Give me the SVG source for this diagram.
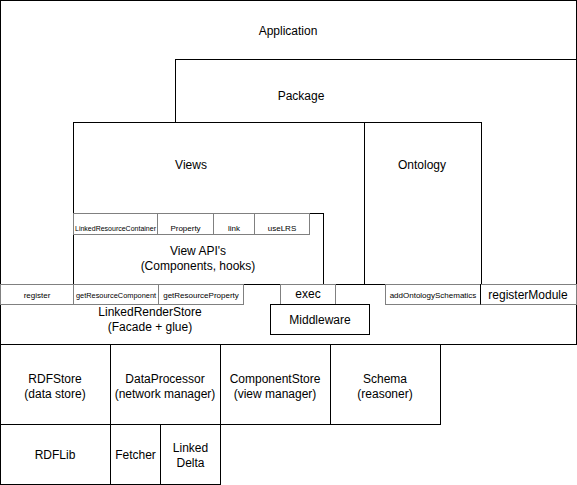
<svg xmlns="http://www.w3.org/2000/svg" width="577" height="485" viewBox="0 0 577 485">
<style>
rect{fill:#fff;stroke:#000;stroke-width:1}
rect.s{stroke:#808080}
text{font-family:"Liberation Sans",Arial,sans-serif;font-size:12px;fill:#000;text-anchor:middle}
text.t{font-size:8px}
text.n{font-size:7.4px}
text.x{font-size:7px}
</style>
<rect x="0" y="0" width="577" height="485" style="stroke:none"/>
<g id="application"><rect x="0.5" y="0.5" width="576" height="344"/><text x="288" y="35">Application</text></g>
<g id="package"><rect x="175.5" y="59.5" width="401" height="285"/><text x="301" y="100">Package</text></g>
<g id="views"><rect x="73.5" y="122.5" width="291" height="162"/><text x="191" y="169">Views</text></g>
<g id="ontology"><rect x="364.5" y="122.5" width="117" height="162"/><text x="422" y="169">Ontology</text></g>
<g id="viewapi"><rect x="73.5" y="213.5" width="250" height="71"/><text x="198" y="255">View API's</text><text x="198" y="270">(Components, hooks)</text></g>
<g id="linkedresourcecontainer"><rect class="s" x="73.5" y="213.5" width="84" height="21"/><text class="x" x="115.5" y="231">LinkedResourceContainer</text></g>
<g id="property"><rect class="s" x="157.5" y="213.5" width="56" height="21"/><text class="t" x="185.5" y="231">Property</text></g>
<g id="link"><rect class="s" x="213.5" y="213.5" width="41" height="21"/><text class="t" x="234" y="231">link</text></g>
<g id="uselrs"><rect class="s" x="254.5" y="213.5" width="55" height="21"/><text class="t" x="282" y="231">useLRS</text></g>
<g id="linkedrenderstore"><rect x="0.5" y="284.5" width="576" height="60"/><text x="150" y="316">LinkedRenderStore</text><text x="150" y="331">(Facade + glue)</text></g>
<g id="register"><rect class="s" x="0.5" y="284.5" width="73" height="20"/><text class="t" x="37" y="298">register</text></g>
<g id="getresourcecomponent"><rect class="s" x="73.5" y="284.5" width="85" height="20"/><text class="n" x="116" y="298">getResourceComponent</text></g>
<g id="getresourceproperty"><rect class="s" x="158.5" y="284.5" width="85" height="20"/><text class="t" x="201" y="298">getResourceProperty</text></g>
<g id="exec"><rect class="s" x="280.5" y="284.5" width="55" height="20"/><text x="308" y="298">exec</text></g>
<g id="addontologyschematics"><rect class="s" x="385.5" y="284.5" width="95" height="20"/><text class="t" x="433" y="298">addOntologySchematics</text></g>
<g id="registermodule"><rect class="s" x="480.5" y="284.5" width="96" height="20"/><line x1="480.5" y1="284" x2="480.5" y2="304.5" stroke="#000"/><text x="528" y="299">registerModule</text></g>
<g id="middleware"><rect x="270.5" y="304.5" width="99" height="30"/><text x="320" y="324">Middleware</text></g>
<g id="rdfstore"><rect x="0.5" y="344.5" width="110" height="80"/><text x="55" y="383">RDFStore</text><text x="55" y="398">(data store)</text></g>
<g id="dataprocessor"><rect x="110.5" y="344.5" width="110" height="80"/><text x="165" y="383">DataProcessor</text><text x="165" y="398">(network manager)</text></g>
<g id="componentstore"><rect x="220.5" y="344.5" width="110" height="80"/><text x="275" y="383">ComponentStore</text><text x="275" y="398">(view manager)</text></g>
<g id="schema"><rect x="330.5" y="344.5" width="110" height="80"/><text x="385" y="383">Schema</text><text x="385" y="398">(reasoner)</text></g>
<g id="rdflib"><rect x="0.5" y="424.5" width="110" height="60"/><text x="55" y="459">RDFLib</text></g>
<g id="fetcher"><rect x="110.5" y="424.5" width="50" height="60"/><text x="135.5" y="459">Fetcher</text></g>
<g id="linkeddelta"><rect x="160.5" y="424.5" width="60" height="60"/><text x="190.5" y="452">Linked</text><text x="190.5" y="467">Delta</text></g>
<g id="connectors"/>
</svg>
